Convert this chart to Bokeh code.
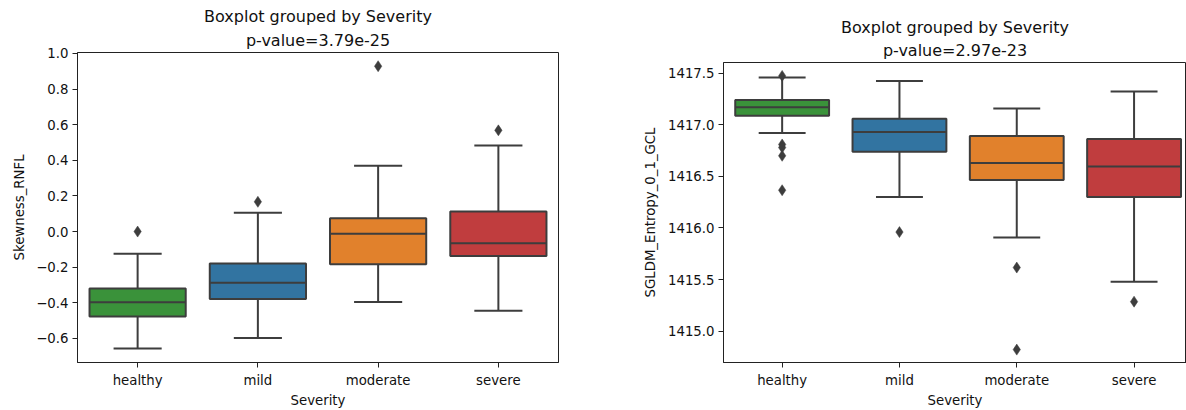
from bokeh.plotting import figure
from bokeh.layouts import row, column
from bokeh.models import FixedTicker, Title, ColumnDataSource
from bokeh.embed import file_html
from bokeh.resources import INLINE

categories = ["healthy", "mild", "moderate", "severe"]
box_colors = ["#3a923a", "#3274a1", "#e1812c", "#c03d3e"]

# Left panel: Skewness_RNFL
left_q1 = [-0.477, -0.378, -0.184, -0.137]
left_median = [-0.397, -0.288, -0.013, -0.065]
left_q3 = [-0.319, -0.180, 0.075, 0.113]
left_whisk_lo = [-0.657, -0.597, -0.395, -0.445]
left_whisk_hi = [-0.124, 0.106, 0.370, 0.483]
left_out_cat = [0, 1, 2, 3]
left_out_val = [0.0, 0.167, 0.928, 0.568]
left_yticks = [-0.6, -0.4, -0.2, 0.0, 0.2, 0.4, 0.6, 0.8, 1.0]
left_yticklabels = ["\u22120.6", "\u22120.4", "\u22120.2", "0.0", "0.2", "0.4", "0.6", "0.8", "1.0"]

# Right panel: SGLDM_Entropy_0_1_GCL
right_q1 = [1417.089, 1416.739, 1416.465, 1416.300]
right_median = [1417.170, 1416.930, 1416.631, 1416.595]
right_q3 = [1417.241, 1417.060, 1416.891, 1416.863]
right_whisk_lo = [1416.922, 1416.300, 1415.908, 1415.479]
right_whisk_hi = [1417.460, 1417.426, 1417.158, 1417.324]
right_out_cat = [0, 0, 0, 0, 0, 1, 2, 2, 3]
right_out_val = [1417.475, 1416.81, 1416.78, 1416.70, 1416.366, 1415.96, 1415.616, 1414.82, 1415.285]
right_yticks = [1415.0, 1415.5, 1416.0, 1416.5, 1417.0, 1417.5]
right_yticklabels = ["1415.0", "1415.5", "1416.0", "1416.5", "1417.0", "1417.5"]

FONT = "DejaVu Sans"
LINE = "#3d3d3d"


def make_panel(width, mb_left, mb_right, mb_top, mb_bottom, xr, yr,
               q1, med, q3, wlo, whi, ocat, oval, yticks, ylabels,
               ylabel, pvalue, ylabel_standoff, title_standoff):
    p = figure(width=width, height=410, x_range=xr, y_range=yr,
               output_backend="svg", toolbar_location=None,
               min_border_left=mb_left, min_border_right=mb_right,
               min_border_top=mb_top, min_border_bottom=mb_bottom)
    p.xgrid.visible = False
    p.ygrid.visible = False
    p.outline_line_color = "#222222"
    p.outline_line_width = 1
    p.background_fill_color = "white"
    p.border_fill_color = "white"

    xs = list(range(len(categories)))
    src = ColumnDataSource(dict(x=xs, q1=q1, med=med, q3=q3, wlo=wlo, whi=whi,
                                color=box_colors,
                                bl=[x - 0.4 for x in xs], br=[x + 0.4 for x in xs],
                                cl=[x - 0.2 for x in xs], cr=[x + 0.2 for x in xs]))
    p.segment(x0="x", y0="q3", x1="x", y1="whi", source=src, line_color=LINE, line_width=2)
    p.segment(x0="x", y0="wlo", x1="x", y1="q1", source=src, line_color=LINE, line_width=2)
    p.segment(x0="cl", y0="whi", x1="cr", y1="whi", source=src, line_color=LINE, line_width=2)
    p.segment(x0="cl", y0="wlo", x1="cr", y1="wlo", source=src, line_color=LINE, line_width=2)
    p.vbar(x="x", width=0.8, bottom="q1", top="q3", source=src,
           fill_color="color", line_color=LINE, line_width=2)
    p.segment(x0="bl", y0="med", x1="br", y1="med", source=src, line_color=LINE, line_width=2)
    p.scatter(x=ocat, y=oval, marker="diamond", size=11,
              fill_color=LINE, line_color=LINE, line_width=0.5)

    p.xaxis.ticker = FixedTicker(ticks=xs)
    p.xaxis.major_label_overrides = {i: c for i, c in enumerate(categories)}
    p.yaxis.ticker = FixedTicker(ticks=yticks)
    p.yaxis.major_label_overrides = {t: l for t, l in zip(yticks, ylabels)}
    for ax in (p.xaxis, p.yaxis):
        ax.minor_tick_line_color = None
        ax.major_tick_in = 0
        ax.major_tick_out = 5
        ax.major_tick_line_color = "#222222"
        ax.axis_line_color = "#222222"
        ax.major_label_text_font = FONT
        ax.major_label_text_font_size = "13.3px"
        ax.major_label_text_color = "#111111"
        ax.axis_label_text_font = FONT
        ax.axis_label_text_font_size = "13.3px"
        ax.axis_label_text_font_style = "normal"
        ax.axis_label_text_color = "#111111"
        ax.major_label_standoff = 4
    p.xaxis.major_label_standoff = 5
    p.xaxis.axis_label = "Severity"
    p.xaxis.axis_label_standoff = 2
    p.yaxis.axis_label = ylabel
    p.yaxis.axis_label_standoff = ylabel_standoff

    p.add_layout(Title(text=pvalue, align="center", text_font=FONT,
                       text_font_size="16px", text_font_style="normal",
                       text_color="#111111", standoff=title_standoff), "above")
    p.add_layout(Title(text="Boxplot grouped by Severity", align="center", text_font=FONT,
                       text_font_size="16px", text_font_style="normal",
                       text_color="#111111", standoff=0), "above")
    return p


p1 = make_panel(600, 77, 42, 52, 45, (-0.5, 3.5), (-0.735, 1.005),
                left_q1, left_median, left_q3, left_whisk_lo, left_whisk_hi,
                left_out_cat, left_out_val, left_yticks, left_yticklabels,
                "Skewness_RNFL", "p-value=3.79e-25", 6, 6)
p2 = make_panel(586, 123, 0, 62, 43, (-0.5, 3.447), (1414.695, 1417.605),
                right_q1, right_median, right_q3, right_whisk_lo, right_whisk_hi,
                right_out_cat, right_out_val, right_yticks, right_yticklabels,
                "SGLDM_Entropy_0_1_GCL", "p-value=2.97e-23", 7, 5)

layout = row(column(p1), column(p2))
open("out.html", "w").write(file_html(layout, INLINE))
